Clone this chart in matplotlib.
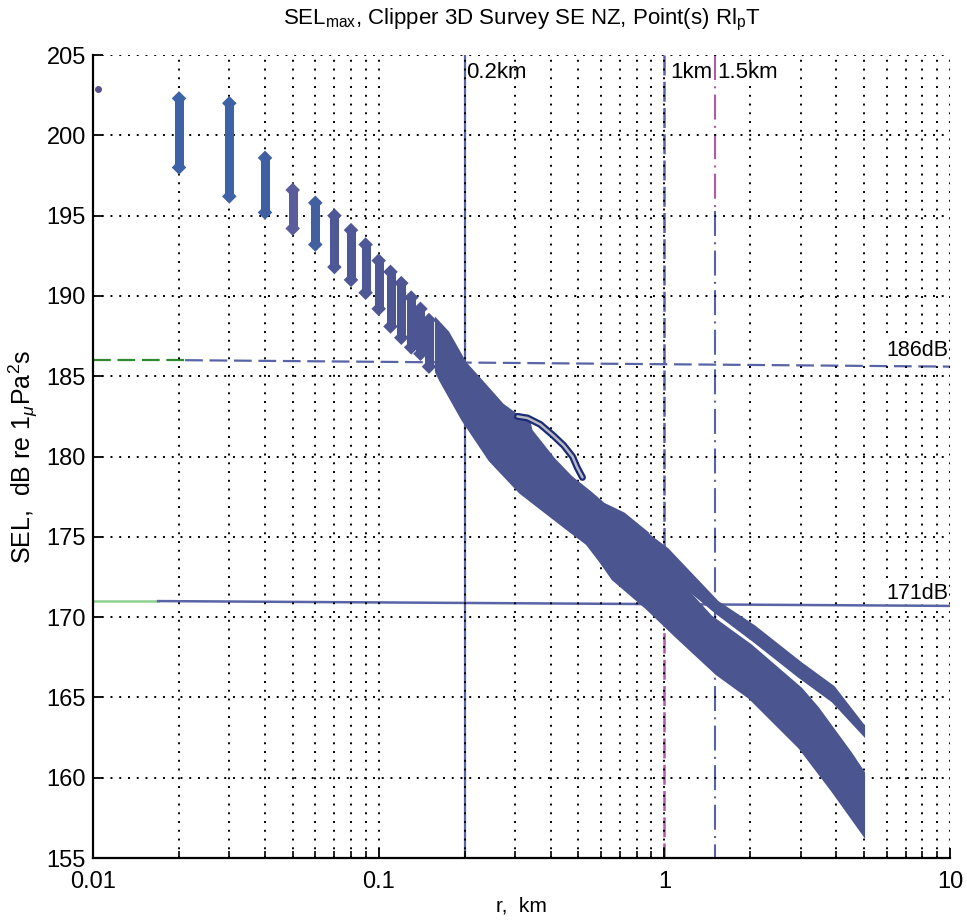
import matplotlib
matplotlib.use('Agg')
import matplotlib.pyplot as plt
import numpy as np

plt.rcParams['font.family'] = ['Liberation Sans', 'DejaVu Sans']
plt.rcParams['mathtext.fontset'] = 'custom'
plt.rcParams['mathtext.rm'] = 'Liberation Sans'
plt.rcParams['mathtext.it'] = 'Liberation Sans:italic'

# single closest point
r0, sel0 = 0.0104, 202.9

# near field: vertical columns of SEL values at each range step (km, dB)
col_r = [0.02, 0.03, 0.04, 0.05, 0.06, 0.07, 0.08, 0.09, 0.10, 0.11, 0.12, 0.13, 0.14, 0.15]
col_top = [202.3, 202.0, 198.6, 196.6, 195.8, 195.0, 194.1, 193.2, 192.2, 191.5, 190.8, 189.9, 189.2, 188.5]
col_bot = [198.0, 196.2, 195.2, 194.2, 193.2, 191.8, 191.0, 190.2, 189.2, 188.1, 187.4, 186.8, 186.4, 185.6]
col_colors = ['#3d62a6', '#3d62a6', '#3e60a3', '#5b5c9c', '#42609f', '#4f5896', '#4f5896',
              '#4f5896', '#4f5795', '#4d5693', '#4d5693', '#4d5693', '#4d5693', '#4d5693']

# main band envelope beyond 0.15 km
band_up_r = [0.16, 0.174, 0.2, 0.23, 0.27, 0.3, 0.332, 0.34, 0.409, 0.469, 0.551, 0.612,
             0.719, 0.87, 0.95, 1.2, 1.45, 2.0, 3.0, 3.43, 4.47, 4.96]
band_up = [188.4, 187.7, 185.8, 184.6, 183.2, 182.6, 182.4, 181.6, 179.8, 178.7, 177.7, 177.0,
           176.4, 175.2, 173.7, 171.6, 170.0, 168.2, 165.5, 164.3, 161.5, 160.3]
band_lo_r = [0.16, 0.165, 0.198, 0.246, 0.314, 0.39, 0.469, 0.538, 0.6, 0.663, 0.87, 1.11, 1.53,
             2.0, 2.99, 3.9, 4.96]
band_lo = [185.3, 184.8, 182.3, 179.8, 177.8, 176.5, 175.4, 174.6, 173.5, 172.4, 170.6, 168.8, 166.5,
           165.0, 161.9, 159.2, 156.6]

# separate upper strand in far field
strand_r = [0.8, 1.02, 1.53, 2.05, 2.99, 3.9, 4.96]
strand_up = [175.6, 174.2, 170.9, 169.4, 167.1, 165.6, 163.2]
strand_lo = [174.5, 172.9, 170.3, 168.6, 166.3, 164.8, 162.8]

# outlined arc
arc_r = [0.306, 0.332, 0.368, 0.409, 0.444, 0.477, 0.496, 0.517]
arc_sel = [182.5, 182.4, 182.0, 181.3, 180.7, 180.0, 179.3, 178.7]

# thresholds
thr_db = [186, 171]
thr_labels = ['186dB', '171dB']
ranges_km = [0.2, 1.0, 1.5]
range_labels = ['0.2km', '1km', '1.5km']

band_c = '#4b5590'
line_c = '#5864a6'
green = '#2e8a2e'
magenta = '#b05aa8'

fig = plt.figure(figsize=(9.67, 9.24), dpi=100)
ax = fig.add_axes([0.0962, 0.0714, 0.8862, 0.8690])
ax.set_xscale('log')
ax.set_xlim(0.01, 10)
ax.set_ylim(155, 205)
ax.set_yticks(np.arange(155, 206, 5))
ax.set_xticks([0.01, 0.1, 1, 10])
ax.set_xticklabels(['0.01', '0.1', '1', '10'])

ax.grid(True, which='major', color='black', linestyle=(0, (1, 3.5)), linewidth=1.4, zorder=0)
ax.grid(True, which='minor', axis='x', color='black', linestyle=(0, (1, 3.5)), linewidth=1.4, zorder=0)
ax.spines['top'].set_visible(False)
ax.spines['right'].set_visible(False)
ax.spines['left'].set_linewidth(1.6)
ax.spines['bottom'].set_linewidth(1.6)
ax.tick_params(which='both', direction='in', labelsize=17, top=False, right=False)
ax.tick_params(which='major', length=7, width=1.3)
ax.tick_params(which='minor', length=5, width=1.2)
ax.tick_params(axis='x', which='major', pad=9)
ax.tick_params(axis='y', which='major', pad=5)

# threshold lines
ax.plot([0.01, 0.021], [thr_db[0]] * 2, color=green, lw=1.6, dashes=(8, 3), zorder=1)
ax.plot([0.021, 10], [thr_db[0], thr_db[0] - 0.4], color=line_c, lw=1.6, dashes=(8, 3), zorder=1)
ax.plot([0.01, 0.0169], [thr_db[1]] * 2, color='#8fd08f', lw=1.8, zorder=1)
ax.plot([0.0169, 10], [thr_db[1], thr_db[1] - 0.3], color=line_c, lw=1.8, zorder=1)

# range lines
ax.axvline(ranges_km[0], color=line_c, lw=1.6, zorder=1)
ax.plot([ranges_km[1]] * 2, [205, 169], color=line_c, lw=1.8, dashes=(8, 2.5), zorder=1)
ax.plot([ranges_km[1]] * 2, [169, 155], color=magenta, lw=1.8, dashes=(8, 2.5), zorder=1)
ax.plot([ranges_km[2]] * 2, [205, 195.3], color=magenta, lw=1.5, dashes=(12, 3, 1, 3), zorder=1)
ax.plot([ranges_km[2]] * 2, [195.3, 155], color=line_c, lw=1.5, dashes=(12, 3, 1, 3), zorder=1)

# data
ax.plot([r0], [sel0], 'o', ms=4, color='#5a4f8a', zorder=3, clip_on=False)
ax.vlines(col_r, col_bot, col_top, colors=col_colors, lw=6.5, zorder=3)
ax.scatter(col_r + col_r, col_top + col_bot, marker='D', s=55, c=col_colors + col_colors,
           linewidths=0, zorder=3)

bx = band_up_r + band_lo_r[::-1]
by = band_up + band_lo[::-1]
ax.fill(bx, by, color=band_c, lw=3, ec=band_c, zorder=3)
sx = strand_r + strand_r[::-1]
sy = strand_up + strand_lo[::-1]
ax.fill(sx, sy, color=band_c, lw=3, ec=band_c, zorder=3)

ax.plot(arc_r, arc_sel, color='#1b2b78', lw=5, solid_capstyle='round', zorder=4)
ax.plot(arc_r, arc_sel, color='#b8b8c0', lw=1.8, solid_capstyle='round', zorder=5)

# labels
ax.text(0.202, 203.9, range_labels[0], fontsize=16, ha='left', va='center', zorder=6)
ax.text(1.045, 203.9, range_labels[1], fontsize=16, ha='left', va='center', zorder=6,
        bbox=dict(fc='white', ec='none', pad=0.5))
ax.text(1.53, 203.9, range_labels[2], fontsize=16, ha='left', va='center', zorder=6,
        bbox=dict(fc='white', ec='none', pad=0.5))
ax.text(9.85, 186.6, thr_labels[0], fontsize=15.5, ha='right', va='center', zorder=6,
        bbox=dict(fc='white', ec='none', pad=0.5))
ax.text(9.85, 171.5, thr_labels[1], fontsize=15.5, ha='right', va='center', zorder=6,
        bbox=dict(fc='white', ec='none', pad=0.5))

ax.set_title(r'SEL$_{\rm max}$, Clipper 3D Survey SE NZ, Point(s) Rl$_{\rm p}$T', fontsize=16, pad=22)
ax.set_ylabel(r'SEL,  dB re 1$_{\mu}$Pa$^2$s', fontsize=18, labelpad=5)
ax.set_xlabel('r,  km', fontsize=15, labelpad=3)

fig.savefig('out.png', dpi=100)
